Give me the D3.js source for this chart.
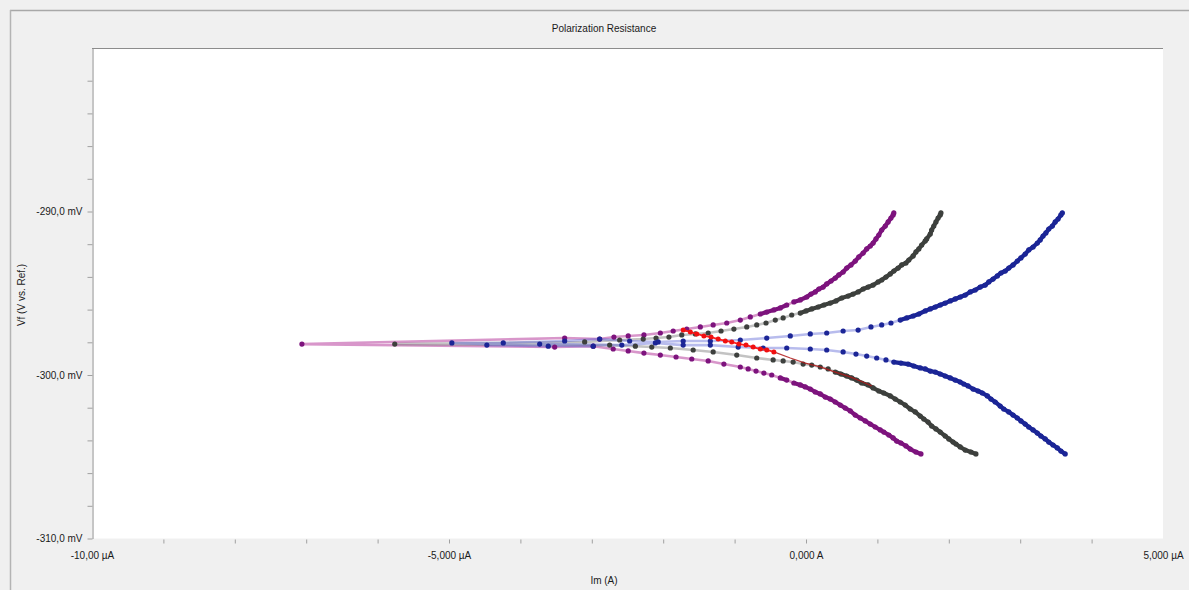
<!DOCTYPE html>
<html>
<head>
<meta charset="utf-8">
<script src="https://cdn.jsdelivr.net/npm/d3@7"></script>
<style>
  html, body { margin: 0; padding: 0; background: #f0f0f0; }
  svg { display: block; font-family: "Liberation Sans", Arial, sans-serif; }
</style>
</head>
<body>
<svg id="chart" width="1189" height="590"></svg>
<script>
// Polarization resistance scans: [current (µA), potential (mV vs. Ref.)] in scan order
const purpleScan = [
  [1.61,-304.83],[1.54,-304.71],[1.46,-304.53],[1.40,-304.34],[1.33,-304.16],[1.27,-304.04],[1.22,-303.85],[1.16,-303.67],
  [1.09,-303.49],[1.04,-303.36],[0.97,-303.18],[0.90,-303.00],[0.83,-302.81],[0.76,-302.63],[0.69,-302.45],[0.62,-302.20],
  [0.55,-302.02],[0.48,-301.84],[0.41,-301.65],[0.34,-301.47],[0.27,-301.35],[0.20,-301.16],[0.13,-301.04],[0.06,-300.86],
  [-0.01,-300.73],[-0.08,-300.61],[-0.17,-300.49],[-0.27,-300.31],[-0.36,-300.18],[-0.48,-300.00],[-0.59,-299.88],[-0.70,-299.76],
  [-0.81,-299.63],[-0.92,-299.51],[-1.15,-299.33],[-1.37,-299.14],[-1.60,-299.02],[-1.82,-298.90],[-2.04,-298.78],[-2.27,-298.66],
  [-2.49,-298.53],[-2.70,-298.41],
  [-2.98,-298.24],[-3.52,-298.29],[-7.06,-298.11],[-3.38,-297.74],[-2.89,-297.80],
  [-2.69,-297.68],[-2.49,-297.61],[-2.27,-297.55],[-2.04,-297.43],[-1.86,-297.31],[-1.67,-297.19],[-1.48,-297.06],[-1.30,-296.94],
  [-1.11,-296.82],[-0.92,-296.64],[-0.78,-296.45],[-0.64,-296.27],[-0.55,-296.15],[-0.45,-296.02],[-0.36,-295.90],[-0.27,-295.72],
  [-0.17,-295.53],[-0.08,-295.41],[0.01,-295.23],[0.07,-295.05],[0.13,-294.92],[0.18,-294.74],[0.24,-294.62],[0.29,-294.43],
  [0.35,-294.25],[0.41,-294.07],[0.46,-293.88],[0.52,-293.70],[0.57,-293.46],[0.63,-293.27],[0.69,-293.03],[0.74,-292.78],
  [0.80,-292.54],[0.85,-292.29],[0.90,-292.11],[0.94,-291.93],[0.98,-291.68],[1.02,-291.44],[1.06,-291.13],[1.11,-290.89],
  [1.15,-290.64],[1.19,-290.40],[1.22,-290.21],[1.23,-290.09]
];

const grayScan = [
  [2.38,-304.83],[2.31,-304.71],[2.23,-304.59],[2.16,-304.40],[2.10,-304.22],[2.06,-304.10],[2.00,-303.91],[1.95,-303.73],
  [1.88,-303.49],[1.82,-303.30],[1.76,-303.12],[1.71,-302.88],[1.65,-302.69],[1.60,-302.51],[1.53,-302.26],[1.46,-302.08],
  [1.39,-301.84],[1.32,-301.65],[1.25,-301.47],[1.18,-301.28],[1.09,-301.10],[1.02,-300.98],[0.94,-300.79],[0.87,-300.61],
  [0.78,-300.49],[0.71,-300.31],[0.64,-300.18],[0.57,-300.06],[0.49,-299.94],[0.41,-299.82],[0.31,-299.63],[0.20,-299.51],
  [0.08,-299.39],[-0.04,-299.33],[-0.18,-299.21],[-0.32,-299.14],[-0.46,-299.08],[-0.69,-298.96],[-0.97,-298.78],[-1.30,-298.59],
  [-1.58,-298.47],[-1.90,-298.35],[-2.16,-298.29],[-2.39,-298.24],
  [-2.75,-298.17],[-5.76,-298.11],[-3.10,-297.98],[-2.61,-297.86],
  [-2.28,-297.80],[-2.10,-297.74],[-1.92,-297.68],[-1.74,-297.55],[-1.55,-297.49],[-1.37,-297.43],[-1.19,-297.31],[-1.01,-297.19],
  [-0.83,-297.06],[-0.69,-296.94],[-0.56,-296.82],[-0.43,-296.64],[-0.32,-296.51],[-0.20,-296.33],[-0.08,-296.21],[0.00,-296.08],
  [0.08,-295.96],[0.17,-295.84],[0.25,-295.72],[0.34,-295.60],[0.42,-295.47],[0.50,-295.29],[0.59,-295.17],[0.66,-295.05],
  [0.73,-294.92],[0.80,-294.74],[0.87,-294.62],[0.94,-294.50],[1.01,-294.31],[1.06,-294.19],[1.12,-294.01],[1.18,-293.82],
  [1.23,-293.64],[1.29,-293.46],[1.34,-293.27],[1.40,-293.15],[1.44,-292.97],[1.50,-292.72],[1.54,-292.47],[1.58,-292.29],
  [1.62,-292.05],[1.67,-291.80],[1.69,-291.68],[1.74,-291.38],[1.76,-291.13],[1.79,-290.89],[1.82,-290.64],[1.85,-290.40],
  [1.88,-290.21],[1.89,-290.09]
];

const blueScan = [
  [3.63,-304.83],[3.57,-304.65],[3.52,-304.46],[3.46,-304.28],[3.40,-304.10],[3.35,-303.91],[3.29,-303.73],[3.24,-303.55],
  [3.18,-303.36],[3.12,-303.18],[3.07,-303.00],[3.01,-302.81],[2.96,-302.63],[2.90,-302.45],[2.84,-302.26],[2.77,-302.08],
  [2.72,-301.90],[2.65,-301.65],[2.59,-301.47],[2.54,-301.28],[2.47,-301.10],[2.41,-300.98],[2.34,-300.86],[2.27,-300.67],
  [2.21,-300.55],[2.16,-300.43],[2.09,-300.31],[2.02,-300.18],[1.95,-300.06],[1.88,-299.94],[1.81,-299.82],[1.74,-299.76],
  [1.67,-299.63],[1.60,-299.57],[1.51,-299.45],[1.43,-299.33],[1.33,-299.27],[1.23,-299.21],[1.12,-299.08],[0.99,-298.96],
  [0.85,-298.84],[0.70,-298.72],[0.52,-298.59],[0.29,-298.47],[0.06,-298.41],[-0.27,-298.35],[-0.60,-298.35],[-0.95,-298.29],
  [-1.34,-298.17],[-1.72,-298.17],[-2.11,-298.04],
  [-2.58,-298.17],[-3.73,-298.11],[-2.98,-298.24],[-4.47,-298.17],[-3.61,-298.24],[-4.96,-298.04],[-4.24,-298.04],[-3.38,-297.92],
  [-2.89,-297.80],[-2.47,-297.92],
  [-2.07,-297.98],[-1.72,-297.92],[-1.34,-297.92],[-0.92,-297.86],[-0.55,-297.74],[-0.22,-297.61],[0.06,-297.49],[0.29,-297.43],
  [0.52,-297.31],[0.73,-297.25],[0.91,-297.06],[1.06,-296.94],[1.19,-296.82],[1.32,-296.64],[1.41,-296.51],[1.50,-296.39],
  [1.58,-296.27],[1.67,-296.08],[1.74,-295.96],[1.81,-295.84],[1.88,-295.72],[1.95,-295.60],[2.02,-295.47],[2.09,-295.35],
  [2.16,-295.23],[2.23,-295.11],[2.30,-294.92],[2.37,-294.80],[2.44,-294.62],[2.51,-294.50],[2.56,-294.31],[2.62,-294.13],
  [2.68,-293.94],[2.73,-293.76],[2.79,-293.64],[2.84,-293.46],[2.90,-293.27],[2.96,-293.03],[3.01,-292.84],[3.07,-292.60],
  [3.12,-292.35],[3.18,-292.17],[3.24,-291.93],[3.28,-291.74],[3.32,-291.50],[3.36,-291.31],[3.40,-291.07],[3.45,-290.89],
  [3.49,-290.64],[3.53,-290.46],[3.57,-290.21],[3.59,-290.09]
];

// Rp fit region (red): marked points, then the fitted trace continuing along the scan
const fitPoints = [
  [-1.72,-297.25],[-1.62,-297.37],[-1.53,-297.49],[-1.43,-297.61],[-1.33,-297.68],[-1.23,-297.80],[-1.13,-297.92],
  [-1.04,-297.98],[-0.94,-298.11],[-0.84,-298.17],[-0.74,-298.29],[-0.64,-298.41],[-0.55,-298.47],[-0.45,-298.59]
];
const fitTail = [
  [-0.45,-298.59],[-0.22,-298.96],[-0.01,-299.27],[0.20,-299.51],[0.41,-299.82],[0.62,-300.12],[0.83,-300.49],[0.92,-300.67]
];

// Axis ticks and labels
const xDomain = [-10, 5];
const yDomain = [-310, -280];
const xTickValues = [-10,-9,-8,-7,-6,-5,-4,-3,-2,-1,0,1,2,3,4,5];
const xLabelValues = [-10, -5, 0, 5];
const xLabelTexts = ["-10,00 \u00b5A", "-5,000 \u00b5A", "0,000 A", "5,000 \u00b5A"];
const yTickValues = [-310,-308,-306,-304,-302,-300,-298,-296,-294,-292,-290,-288,-286,-284,-282];
const yLabelValues = [-310, -300, -290];
const yLabelTexts = ["-310,0 mV", "-300,0 mV", "-290,0 mV"];

const chartTitle = "Polarization Resistance";
const xTitle = "Im (A)";
const yTitle = "Vf (V vs. Ref.)";

const series = [
  { data: purpleScan, dot: "#7d137d", line: "#b8409e", lineOpacity: 0.55 },
  { data: grayScan,   dot: "#3d403d", line: "#7a7a7a", lineOpacity: 0.45 },
  { data: blueScan,   dot: "#1b2596", line: "#5560d4", lineOpacity: 0.42 }
];

const W = 1189, H = 590;
const plot = { left: 92, right: 1163, top: 48, bottom: 538.5 };

const svg = d3.select("#chart");

// panel background and frame
svg.append("rect").attr("x", 0).attr("y", 0).attr("width", W).attr("height", H).attr("fill", "#f0f0f0");
svg.append("line").attr("x1", 10).attr("x2", W).attr("y1", 10.5).attr("y2", 10.5)
  .attr("stroke", "#a8a8a8").attr("stroke-width", 1.5);
svg.append("line").attr("x1", 10.5).attr("x2", 10.5).attr("y1", 10).attr("y2", H)
  .attr("stroke", "#b4b4b4").attr("stroke-width", 1.5);

// plotting area
svg.append("rect").attr("x", plot.left).attr("y", plot.top)
  .attr("width", plot.right - plot.left).attr("height", plot.bottom - plot.top)
  .attr("fill", "#ffffff");
svg.append("line").attr("x1", plot.left).attr("x2", plot.right)
  .attr("y1", plot.top + 0.5).attr("y2", plot.top + 0.5)
  .attr("stroke", "#8c8c8c").attr("stroke-width", 1);

const x = d3.scaleLinear().domain(xDomain).range([plot.left, plot.right]);
const y = d3.scaleLinear().domain(yDomain).range([plot.bottom, plot.top]);

// y axis
const yAxis = d3.axisLeft(y)
  .tickValues(yTickValues)
  .tickSize(5)
  .tickSizeOuter(0)
  .tickPadding(5)
  .tickFormat(v => { const i = yLabelValues.indexOf(v); return i >= 0 ? yLabelTexts[i] : ""; });
const gy = svg.append("g").attr("transform", `translate(${plot.left + 0.5},0)`).call(yAxis);
gy.select(".domain").attr("stroke", "#8c8c8c");
gy.selectAll(".tick line").attr("stroke", "#a0a0a0");
gy.selectAll(".tick text").attr("fill", "#1a1a1a").style("font-size", "10px")
  .style("font-family", "'Liberation Sans', Arial, sans-serif");

// x axis
const xAxis = d3.axisBottom(x)
  .tickValues(xTickValues)
  .tickSize(4)
  .tickSizeOuter(0)
  .tickPadding(8)
  .tickFormat(v => { const i = xLabelValues.indexOf(v); return i >= 0 ? xLabelTexts[i] : ""; });
const gx = svg.append("g").attr("transform", `translate(0,${plot.bottom + 1})`).call(xAxis);
gx.select(".domain").remove();
gx.selectAll(".tick line").attr("stroke", "#a0a0a0")
  .attr("opacity", d => (d === xDomain[0] || d === xDomain[1]) ? 0 : 1);
gx.selectAll(".tick text").attr("fill", "#1a1a1a").style("font-size", "10px")
  .style("font-family", "'Liberation Sans', Arial, sans-serif");

// titles
svg.append("text").attr("x", 604).attr("y", 32).attr("text-anchor", "middle")
  .attr("font-size", 10).attr("fill", "#1a1a1a").text(chartTitle);
svg.append("text").attr("x", 604).attr("y", 584).attr("text-anchor", "middle")
  .attr("font-size", 10).attr("fill", "#1a1a1a").text(xTitle);
svg.append("text").attr("transform", "translate(25,295) rotate(-90)").attr("text-anchor", "middle")
  .attr("font-size", 10).attr("fill", "#1a1a1a").text(yTitle);

// data
svg.append("clipPath").attr("id", "plotClip").append("rect")
  .attr("x", plot.left).attr("y", plot.top)
  .attr("width", plot.right - plot.left).attr("height", plot.bottom - plot.top);
const g = svg.append("g").attr("clip-path", "url(#plotClip)");

const line = d3.line().x(d => x(d[0])).y(d => y(d[1]));

// thin translucent connectors between successive readings
series.forEach(s => {
  g.append("path").datum(s.data).attr("d", line)
    .attr("fill", "none").attr("stroke", s.line)
    .attr("stroke-opacity", s.lineOpacity).attr("stroke-width", 2.6)
    .attr("stroke-linejoin", "round").attr("stroke-linecap", "round");
});

// where readings crowd together the markers merge into a solid trace
const pixelGap = (a, b) => Math.hypot(x(a[0]) - x(b[0]), y(a[1]) - y(b[1]));
series.forEach(s => {
  g.append("g").selectAll("line")
    .data(d3.pairs(s.data).filter(([a, b]) => pixelGap(a, b) < 7.5))
    .join("line")
    .attr("x1", d => x(d[0][0])).attr("y1", d => y(d[0][1]))
    .attr("x2", d => x(d[1][0])).attr("y2", d => y(d[1][1]))
    .attr("stroke", s.dot).attr("stroke-width", 4.2).attr("stroke-linecap", "round");
});

series.forEach(s => {
  g.append("g").selectAll("circle").data(s.data).join("circle")
    .attr("cx", d => x(d[0])).attr("cy", d => y(d[1]))
    .attr("r", 2.6).attr("fill", s.dot);
});

g.append("path").datum(fitTail).attr("d", line)
  .attr("fill", "none").attr("stroke", "#b01818").attr("stroke-width", 1.3).attr("stroke-opacity", 0.85);
g.append("path").datum(fitPoints).attr("d", line)
  .attr("fill", "none").attr("stroke", "#ff2020").attr("stroke-width", 1.8);
g.append("g").selectAll("circle").data(fitPoints).join("circle")
  .attr("cx", d => x(d[0])).attr("cy", d => y(d[1]))
  .attr("r", 2.5).attr("fill", "#f01010");
</script>
</body>
</html>
